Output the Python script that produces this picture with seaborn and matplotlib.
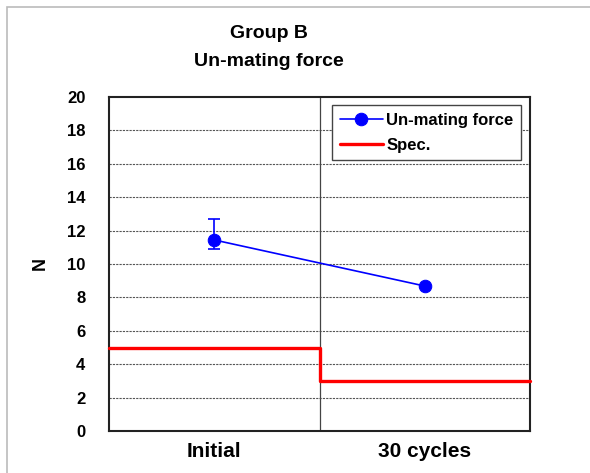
import numpy as np
import pandas as pd
import matplotlib
matplotlib.use("Agg")
import matplotlib.pyplot as plt
from matplotlib.patches import Rectangle
import seaborn as sns

# ---- data ----
categories = ["Initial", "30 cycles"]
force_mean = [11.44, 8.68]
force_upper = [12.7, 8.68]
force_lower = [10.88, 8.68]
spec_values = [5, 3]
yticks = [0, 2, 4, 6, 8, 10, 12, 14, 16, 18, 20]

sns.set_theme(style="white")
plt.rcParams['font.family'] = ['Liberation Sans', 'DejaVu Sans']
plt.rcParams['font.weight'] = 'bold'
plt.rcParams['text.color'] = 'black'
plt.rcParams['axes.labelcolor'] = 'black'
plt.rcParams['xtick.color'] = 'black'
plt.rcParams['ytick.color'] = 'black'

fig = plt.figure(figsize=(5.9, 4.73), dpi=100)
ax = fig.add_axes([109/590, 42/473, 421/590, 334/473])

xpos = np.arange(len(categories))
df = pd.DataFrame({"x": xpos, "force": force_mean})

# spec step line
spec_x = list(np.arange(len(spec_values)) - 0.5) + [len(spec_values) - 0.5]
spec_y = spec_values + [spec_values[-1]]
ax.step(spec_x, spec_y, where="post", color="#ff0000", lw=2.4, zorder=3,
        clip_on=False, label="Spec.")

# error bars
yerr = [np.array(force_mean) - np.array(force_lower),
        np.array(force_upper) - np.array(force_mean)]
ax.errorbar(xpos, force_mean, yerr=yerr, fmt="none", ecolor="#0000ff",
            elinewidth=1.2, capsize=4.5, capthick=1.2, zorder=4)

sns.lineplot(data=df, x="x", y="force", ax=ax, color="#0000ff", lw=1.2,
             marker="o", markersize=9, markeredgecolor="#0000ff",
             label="Un-mating force", zorder=5)

ax.set_xlim(-0.5, 1.5)
ax.set_ylim(0, 20)
ax.set_yticks(yticks)
ax.set_yticklabels([str(t) for t in yticks], fontsize=12, fontweight="bold")
ax.set_xticks(xpos)
ax.set_xticklabels(categories, fontsize=15, fontweight="bold")
ax.tick_params(axis="both", length=0, colors="black")
ax.tick_params(axis="y", pad=17)
ax.tick_params(axis="x", pad=8)
ax.set_xlabel("")
ax.set_ylabel("N", fontsize=13, fontweight="bold", labelpad=13)

for y in yticks[1:-1]:
    ax.axhline(y, color="#555555", lw=0.8, ls=(0, (2, 1)), zorder=1)
ax.axvline(0.5, color="#444444", lw=0.9, zorder=1)

for s in ax.spines.values():
    s.set_color("#222222")
    s.set_linewidth(1.5)

handles, labels = ax.get_legend_handles_labels()
order = [labels.index("Un-mating force"), labels.index("Spec.")]
leg = ax.legend([handles[i] for i in order], [labels[i] for i in order],
                loc="upper right", bbox_to_anchor=(0.9786, 0.976),
                fontsize=12, frameon=True, fancybox=False, framealpha=1,
                edgecolor="#444444", borderpad=0.45, labelspacing=0.6,
                handlelength=2.6, handletextpad=0.2, borderaxespad=0)
for t in leg.get_texts():
    t.set_fontweight("bold")
leg.get_frame().set_linewidth(1.0)

fig.text(269/590, 1 - 33/473, "Group B", ha="center", va="center",
         fontsize=14, fontweight="bold")
fig.text(269/590, 1 - 62/473, "Un-mating force", ha="center", va="center",
         fontsize=14, fontweight="bold")

fig.patches.append(Rectangle((7/590, -0.1), 1.2, 1 - 7/473 + 0.1,
                             transform=fig.transFigure, fill=False,
                             edgecolor="#bbbbbb", lw=1.2))

fig.savefig("out.png", dpi=100)
